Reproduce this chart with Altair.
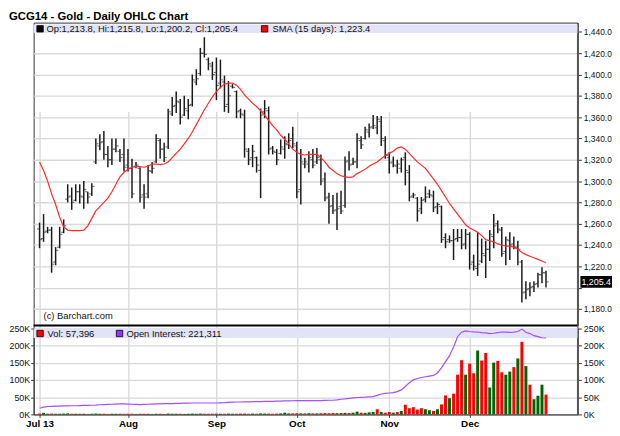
import altair as alt
import pandas as pd

TITLE = "GCG14 - Gold - Daily OHLC Chart"
MONTH_TICKS = [0, 22, 44, 64, 87, 107]
MONTH_LABELS = ["Jul 13", "Aug", "Sep", "Oct", "Nov", "Dec"]
PRICE_TICKS = [1180, 1200, 1220, 1240, 1260, 1280, 1300, 1320, 1340, 1360, 1380, 1400, 1420, 1440]
VOL_TICKS = [0, 50000, 100000, 150000, 200000, 250000]

HIGH = [1261, 1269, 1257, 1257, 1238, 1257, 1264, 1297, 1294, 1297,
        1297, 1300, 1290, 1298, 1340, 1344, 1347, 1333, 1340, 1340,
        1330, 1340, 1330, 1321, 1318, 1313, 1297, 1315, 1318, 1344,
        1340, 1336, 1368, 1379, 1384, 1377, 1380, 1377, 1400, 1405,
        1425, 1435, 1416, 1412, 1416, 1414, 1399, 1394, 1391, 1385,
        1368, 1367, 1331, 1334, 1323, 1368, 1376, 1370, 1333, 1330,
        1339, 1342, 1345, 1351, 1337, 1330, 1322, 1328, 1330, 1331,
        1325, 1308, 1289, 1287, 1289, 1291, 1323, 1328, 1322, 1345,
        1342, 1351, 1354, 1362, 1361, 1361, 1342, 1327, 1323, 1320,
        1322, 1327, 1315, 1289, 1285, 1285, 1295, 1292, 1291, 1280,
        1277, 1251, 1249, 1255, 1255, 1255, 1255, 1252, 1231, 1252,
        1246, 1244, 1254, 1269, 1263, 1257, 1248, 1252, 1248, 1244,
        1226, 1206, 1205, 1206, 1214, 1219, 1215.8]
LOW = [1237, 1243, 1251, 1214, 1221, 1237, 1251, 1280, 1273, 1281,
       1279, 1274, 1279, 1286, 1316, 1329, 1320, 1313, 1315, 1327,
       1318, 1309, 1309, 1284, 1312, 1280, 1274, 1284, 1307, 1317,
       1321, 1318, 1330, 1361, 1364, 1353, 1361, 1358, 1370, 1390,
       1399, 1416, 1404, 1395, 1376, 1387, 1365, 1364, 1387, 1359,
       1359, 1322, 1315, 1313, 1308, 1284, 1359, 1325, 1325, 1315,
       1325, 1321, 1330, 1331, 1284, 1278, 1312, 1308, 1312, 1316,
       1296, 1281, 1260, 1269, 1254, 1269, 1275, 1310, 1315, 1312,
       1330, 1339, 1341, 1349, 1344, 1333, 1321, 1307, 1313, 1307,
       1308, 1296, 1281, 1284, 1262, 1269, 1280, 1284, 1271, 1269,
       1242, 1237, 1242, 1226, 1243, 1236, 1236, 1217, 1216, 1211,
       1223, 1209, 1225, 1237, 1251, 1229, 1221, 1226, 1236, 1221,
       1186, 1189, 1192, 1196, 1200, 1204, 1200.2]
OPEN = [1255, 1246, 1253, 1254, 1224, 1238, 1252, 1283, 1286, 1282,
        1290, 1285, 1290, 1288, 1318, 1333, 1337, 1325, 1320, 1330,
        1328, 1325, 1315, 1312, 1314, 1312, 1287, 1288, 1309, 1318,
        1338, 1330, 1332, 1363, 1371, 1374, 1362, 1366, 1372, 1393,
        1401, 1420, 1414, 1408, 1402, 1392, 1393, 1372, 1389, 1384,
        1366, 1362, 1328, 1322, 1322, 1310, 1365, 1366, 1331, 1327,
        1326, 1330, 1334, 1340, 1333, 1292, 1316, 1316, 1320, 1318,
        1320, 1302, 1285, 1277, 1273, 1276, 1277, 1319, 1316, 1318,
        1338, 1340, 1346, 1351, 1350, 1356, 1338, 1322, 1318, 1314,
        1312, 1322, 1308, 1286, 1284, 1274, 1283, 1288, 1286, 1276,
        1276, 1247, 1245, 1244, 1246, 1247, 1241, 1250, 1224, 1218,
        1225, 1230, 1236, 1248, 1260, 1254, 1234, 1244, 1241, 1238,
        1224, 1196, 1199, 1201, 1204, 1212, 1213.8]
CLOSE = [1245, 1252, 1254, 1222, 1235, 1250, 1258, 1285, 1280, 1290,
         1286, 1292, 1285, 1295, 1335, 1336, 1325, 1320, 1330, 1333,
         1322, 1313, 1312, 1288, 1315, 1285, 1285, 1310, 1312, 1340,
         1330, 1322, 1365, 1370, 1375, 1360, 1368, 1371, 1395, 1396,
         1420, 1419, 1410, 1400, 1390, 1395, 1370, 1380, 1388, 1365,
         1363, 1330, 1320, 1328, 1315, 1362, 1368, 1330, 1328, 1320,
         1332, 1335, 1338, 1335, 1290, 1318, 1318, 1322, 1315, 1322,
         1300, 1284, 1276, 1272, 1274, 1272, 1318, 1315, 1318, 1340,
         1334, 1348, 1350, 1352, 1358, 1340, 1324, 1317, 1315, 1316,
         1320, 1310, 1285, 1287, 1272, 1282, 1285, 1287, 1275, 1278,
         1245, 1243, 1244, 1245, 1247, 1240, 1250, 1222, 1220, 1222,
         1232, 1236, 1250, 1258, 1255, 1232, 1245, 1240, 1238, 1236,
         1195, 1198, 1200, 1203, 1212, 1214, 1205.4]
SMA15 = [1318, 1310, 1300, 1288, 1278, 1266, 1257, 1254, 1253.5, 1253.5,
         1253.5, 1254, 1258, 1265, 1272, 1276, 1280, 1284, 1290, 1297,
         1304, 1308, 1311, 1313, 1313.5, 1313.5, 1313, 1314, 1316, 1316,
         1315.5, 1316, 1318, 1322, 1326, 1330, 1335, 1340, 1346, 1353,
         1360, 1367, 1373, 1379, 1384, 1388, 1391, 1392, 1392, 1390,
         1386, 1381, 1377, 1373, 1370, 1366, 1362, 1357, 1352, 1348,
         1343, 1339, 1335, 1330, 1327, 1325, 1324.5, 1325, 1325, 1325,
         1322, 1318, 1313, 1310, 1307, 1305, 1304, 1303.5, 1304, 1307,
         1309, 1311, 1314, 1316, 1318, 1321, 1324, 1326, 1328, 1331,
         1332, 1330, 1326, 1322, 1318, 1315, 1312, 1307, 1302, 1297,
         1291, 1285, 1279, 1274, 1269, 1264, 1259, 1256, 1254, 1252,
         1249, 1245, 1244, 1243, 1241, 1240, 1239, 1239, 1238, 1236,
         1233, 1231, 1229.5, 1228, 1226.5, 1225, 1223.4]
VOLUME_K = [2.5, 4.5, 2, 2.5, 2, 2, 2.5, 3, 2, 2,
            2, 2, 1.5, 2, 2.5, 2, 2, 1.5, 2, 2,
            2, 1.5, 2, 2, 1.5, 2, 2, 2, 1.5, 2,
            2, 1.5, 2.5, 2, 2, 2, 1.5, 2, 2.5, 2,
            2.5, 2, 2, 2, 2.5, 2, 2, 2.5, 2, 2,
            2.5, 2.5, 2, 2.5, 2, 3, 2.5, 2.5, 2, 2.5,
            3, 5, 3, 3, 3.5, 3, 3, 3.5, 3, 3,
            3.5, 4, 3.5, 4, 3.5, 4, 4.5, 4, 5, 8,
            5, 4.5, 6, 7,
            15, 7, 5, 7, 5, 7, 10, 28, 18, 21,
            14, 18, 15, 12, 10, 15, 29, 55, 47, 60,
            115, 157, 115, 147, 119, 185, 156, 178, 78, 150,
            155, 122, 115, 124, 137, 162, 210, 140, 86, 44,
            54, 86, 57.396]
VOL_DIR = list("DUUDUUUUDU" "DUDUUUDDUU" "DDDDUDDUUU" "DDUUUDUUUU" "UDDDDUDUUD"
               "DDDUDUUDDD" "UUUDDUDUDU" "DDDDUDUDUU" "DUUU"
               "DUDDUDUDDD" "DDUUDUDDUD" "DDUDDUDDUU" "DDUUDUDUDU" "UUD")
OPEN_INT_K = [18, 21, 23, 23.5, 24, 24, 24.5, 24.5, 25, 25,
              25.5, 26, 26, 26.5, 27, 28, 28.5, 29, 29.5, 30,
              30.5, 30.5, 30, 29.5, 29, 28.6, 29, 29.5, 30, 30.5,
              30.5, 31, 31, 31.5, 32, 32, 32.5, 32.5, 33, 33,
              33, 33, 33, 33, 33, 33.5, 34, 35, 35.5, 36,
              36, 36.5, 36.5, 37, 37, 37, 37.5, 38, 38, 38.5,
              38.5, 39, 39, 39.5, 40, 40, 40, 40, 40, 40,
              40, 40.5, 41, 41, 42, 44, 45, 46.5, 48, 49,
              49.5, 50, 51, 51.5, 55, 59, 61, 62, 63, 66,
              71, 81, 92, 100, 104, 107, 109, 111, 113, 120,
              135, 153, 170, 195, 225, 238, 242, 240, 239, 238.5,
              237, 236, 234, 235, 237, 238.5, 238, 237.6, 238, 240,
              247, 238, 234, 228, 225, 222, 221.311]

N = len(CLOSE)
df = pd.DataFrame({
    "i": list(range(N)),
    "open": OPEN, "high": HIGH, "low": LOW, "close": CLOSE,
    "sma": SMA15,
    "vol": [v * 1000 for v in VOLUME_K],
    "dir": VOL_DIR,
    "oi": [v * 1000 for v in OPEN_INT_K],
})
one = pd.DataFrame({"k": [0]})

# layout
W = 551
H_PRICE = 307
H_VOL = 90
H = H_PRICE + H_VOL
FONT = "Liberation Sans"
GRID = "#d9d9d9"
BAND = "#e3e3f7"

x_expr = " : ".join(f"datum.value == {t} ? '{l}'" for t, l in zip(MONTH_TICKS, MONTH_LABELS)) + " : ''"
x_scale = alt.Scale(domain=[-0.24, 132.6], nice=False, zero=False)
x_axis = alt.Axis(values=MONTH_TICKS, labelExpr=x_expr, title=None, grid=True, gridColor=GRID,
                  gridWidth=1.4, labelFontWeight="bold", labelFontSize=10, labelFont=FONT,
                  labelColor="#000", tickSize=3, tickColor="#333", domainColor="#333",
                  labelFlush=False, labelPadding=1, labelOverlap=False)
X = alt.X("i:Q", scale=x_scale, axis=x_axis)

price_scale = alt.Scale(domain=[1164.35, 1448.75], range=[H_PRICE, 0], nice=False, zero=False)
price_axis = alt.Axis(orient="right", values=PRICE_TICKS, title=None,
                      labelExpr="datum.value == 1200 ? '' : format(datum.value, ',.1f')",
                      grid=True, gridColor=GRID, gridWidth=1.4, tickSize=4, tickColor="#333",
                      domainColor="#555", domainWidth=2, labelFontSize=8.5, labelFont=FONT,
                      labelColor="#111", labelPadding=2, labelFlush=False)
vol_scale = alt.Scale(domain=[0, 250000], range=[H, H_PRICE + 2.5], nice=False, zero=True)
vol_label = "format(datum.value / 1000, 'd') + 'K'"
vol_axis_left = alt.Axis(orient="left", values=VOL_TICKS, title=None, labelExpr=vol_label,
                         grid=True, gridColor=GRID, gridWidth=1.4, tickSize=3, tickColor="#333",
                         domainColor="#333", labelFontSize=9, labelFont=FONT, labelColor="#111",
                         labelPadding=1, labelFlush=False)
vol_axis_right = alt.Axis(orient="right", values=VOL_TICKS, title=None, labelExpr=vol_label,
                          grid=False, tickSize=4, tickColor="#333", domainColor="#555",
                          domainWidth=2, labelFontSize=9, labelFont=FONT, labelColor="#111",
                          labelPadding=2, labelFlush=False)

base = alt.Chart(df)

band_price = alt.Chart(one).mark_rect(color=BAND).encode(
    x=alt.value(0), x2=alt.value(W), y=alt.value(2), y2=alt.value(10.5))
band_vol = alt.Chart(one).mark_rect(color=BAND).encode(
    x=alt.value(0), x2=alt.value(W), y=alt.value(H_PRICE + 3), y2=alt.value(H_PRICE + 12.5))

hl = base.mark_rule(color="#1a1a1a", strokeWidth=1.5).encode(
    x=X, y=alt.Y("low:Q", scale=price_scale, axis=price_axis), y2="high:Q")
op = base.mark_tick(orient="horizontal", size=2, thickness=1, color="#1a1a1a", xOffset=-1.6).encode(
    x=X, y=alt.Y("open:Q", scale=price_scale, axis=None))
cl = base.mark_tick(orient="horizontal", size=2, thickness=1, color="#1a1a1a", xOffset=1.6).encode(
    x=X, y=alt.Y("close:Q", scale=price_scale, axis=None))
sma = base.mark_line(color="#ff2a2a", strokeWidth=1.2).encode(
    x=X, y=alt.Y("sma:Q", scale=price_scale, axis=None))

vol = base.mark_bar(size=3).encode(
    x=X, y=alt.Y("vol:Q", scale=vol_scale, axis=vol_axis_left),
    color=alt.Color("dir:N", scale=alt.Scale(domain=["D", "U"], range=["#ff0000", "#006400"]), legend=None))
oi = base.mark_line(color="#a64dff", strokeWidth=1.2).encode(
    x=X, y=alt.Y("oi:Q", scale=vol_scale, axis=vol_axis_right))

sep = alt.Chart(one).mark_rule(color="#000", strokeWidth=2).encode(
    x=alt.value(0), x2=alt.value(W), y=alt.value(H_PRICE))

ohlc_txt = f"Op:{OPEN[-1]:,.1f}, Hi:{HIGH[-1]:,.1f}, Lo:{LOW[-1]:,.1f}, Cl:{CLOSE[-1]:,.1f}"
sma_txt = f"SMA (15 days): {SMA15[-1]:,.1f}"
vol_txt = f"Vol: {round(VOLUME_K[-1] * 1000):,}"
oi_txt = f"Open Interest: {round(OPEN_INT_K[-1] * 1000):,}"


def label(text, x, y, size=9.5, weight="normal", color="#111", baseline="middle"):
    return alt.Chart(one).mark_text(align="left", baseline=baseline, fontSize=size, font=FONT,
                                    fontWeight=weight, color=color).encode(
        x=alt.value(x), y=alt.value(y), text=alt.value(text))


def swatch(col, x, y):
    return alt.Chart(one).mark_point(shape="square", filled=True, fill=col, stroke="#000",
                                     strokeWidth=0.8, size=42, opacity=1).encode(
        x=alt.value(x), y=alt.value(y))


legend_layers = [
    swatch("#000", 6.5, 6.3), label(ohlc_txt, 13, 6.5),
    swatch("#ff0000", 234, 6.3), label(sma_txt, 242, 6.5),
    swatch("#ff0000", 6.5, H_PRICE + 8), label(vol_txt, 14, H_PRICE + 8.2),
    swatch("#9933ff", 87, H_PRICE + 8), label(oi_txt, 94, H_PRICE + 8.2),
    label("(c) Barchart.com", 10, 297, 9.5),
    label(TITLE, -25, -12, 11.5, "bold", "#000", "top"),
]

last = alt.Chart(df.tail(1))
last_box = last.mark_point(shape="M-1,-0.375H1V0.375H-1Z", size=1024, filled=True, color="#000",
                           opacity=1).encode(x=alt.value(W + 19), y=alt.Y("close:Q", scale=price_scale, axis=None))
last_txt = last.mark_text(color="#fff", fontSize=9, font=FONT, align="center", baseline="middle").encode(
    x=alt.value(W + 19), y=alt.Y("close:Q", scale=price_scale, axis=None), text=alt.Text("close:Q", format=",.1f"))

chart = alt.layer(
    band_price, band_vol, hl, op, cl, sma, vol, oi, sep, *legend_layers, last_box, last_txt
).resolve_scale(y="independent").properties(
    width=W, height=H, padding=0,
).configure_view(stroke="#333", strokeWidth=1)

chart.save("out.html", embed_options={"renderer": "svg", "actions": False})
